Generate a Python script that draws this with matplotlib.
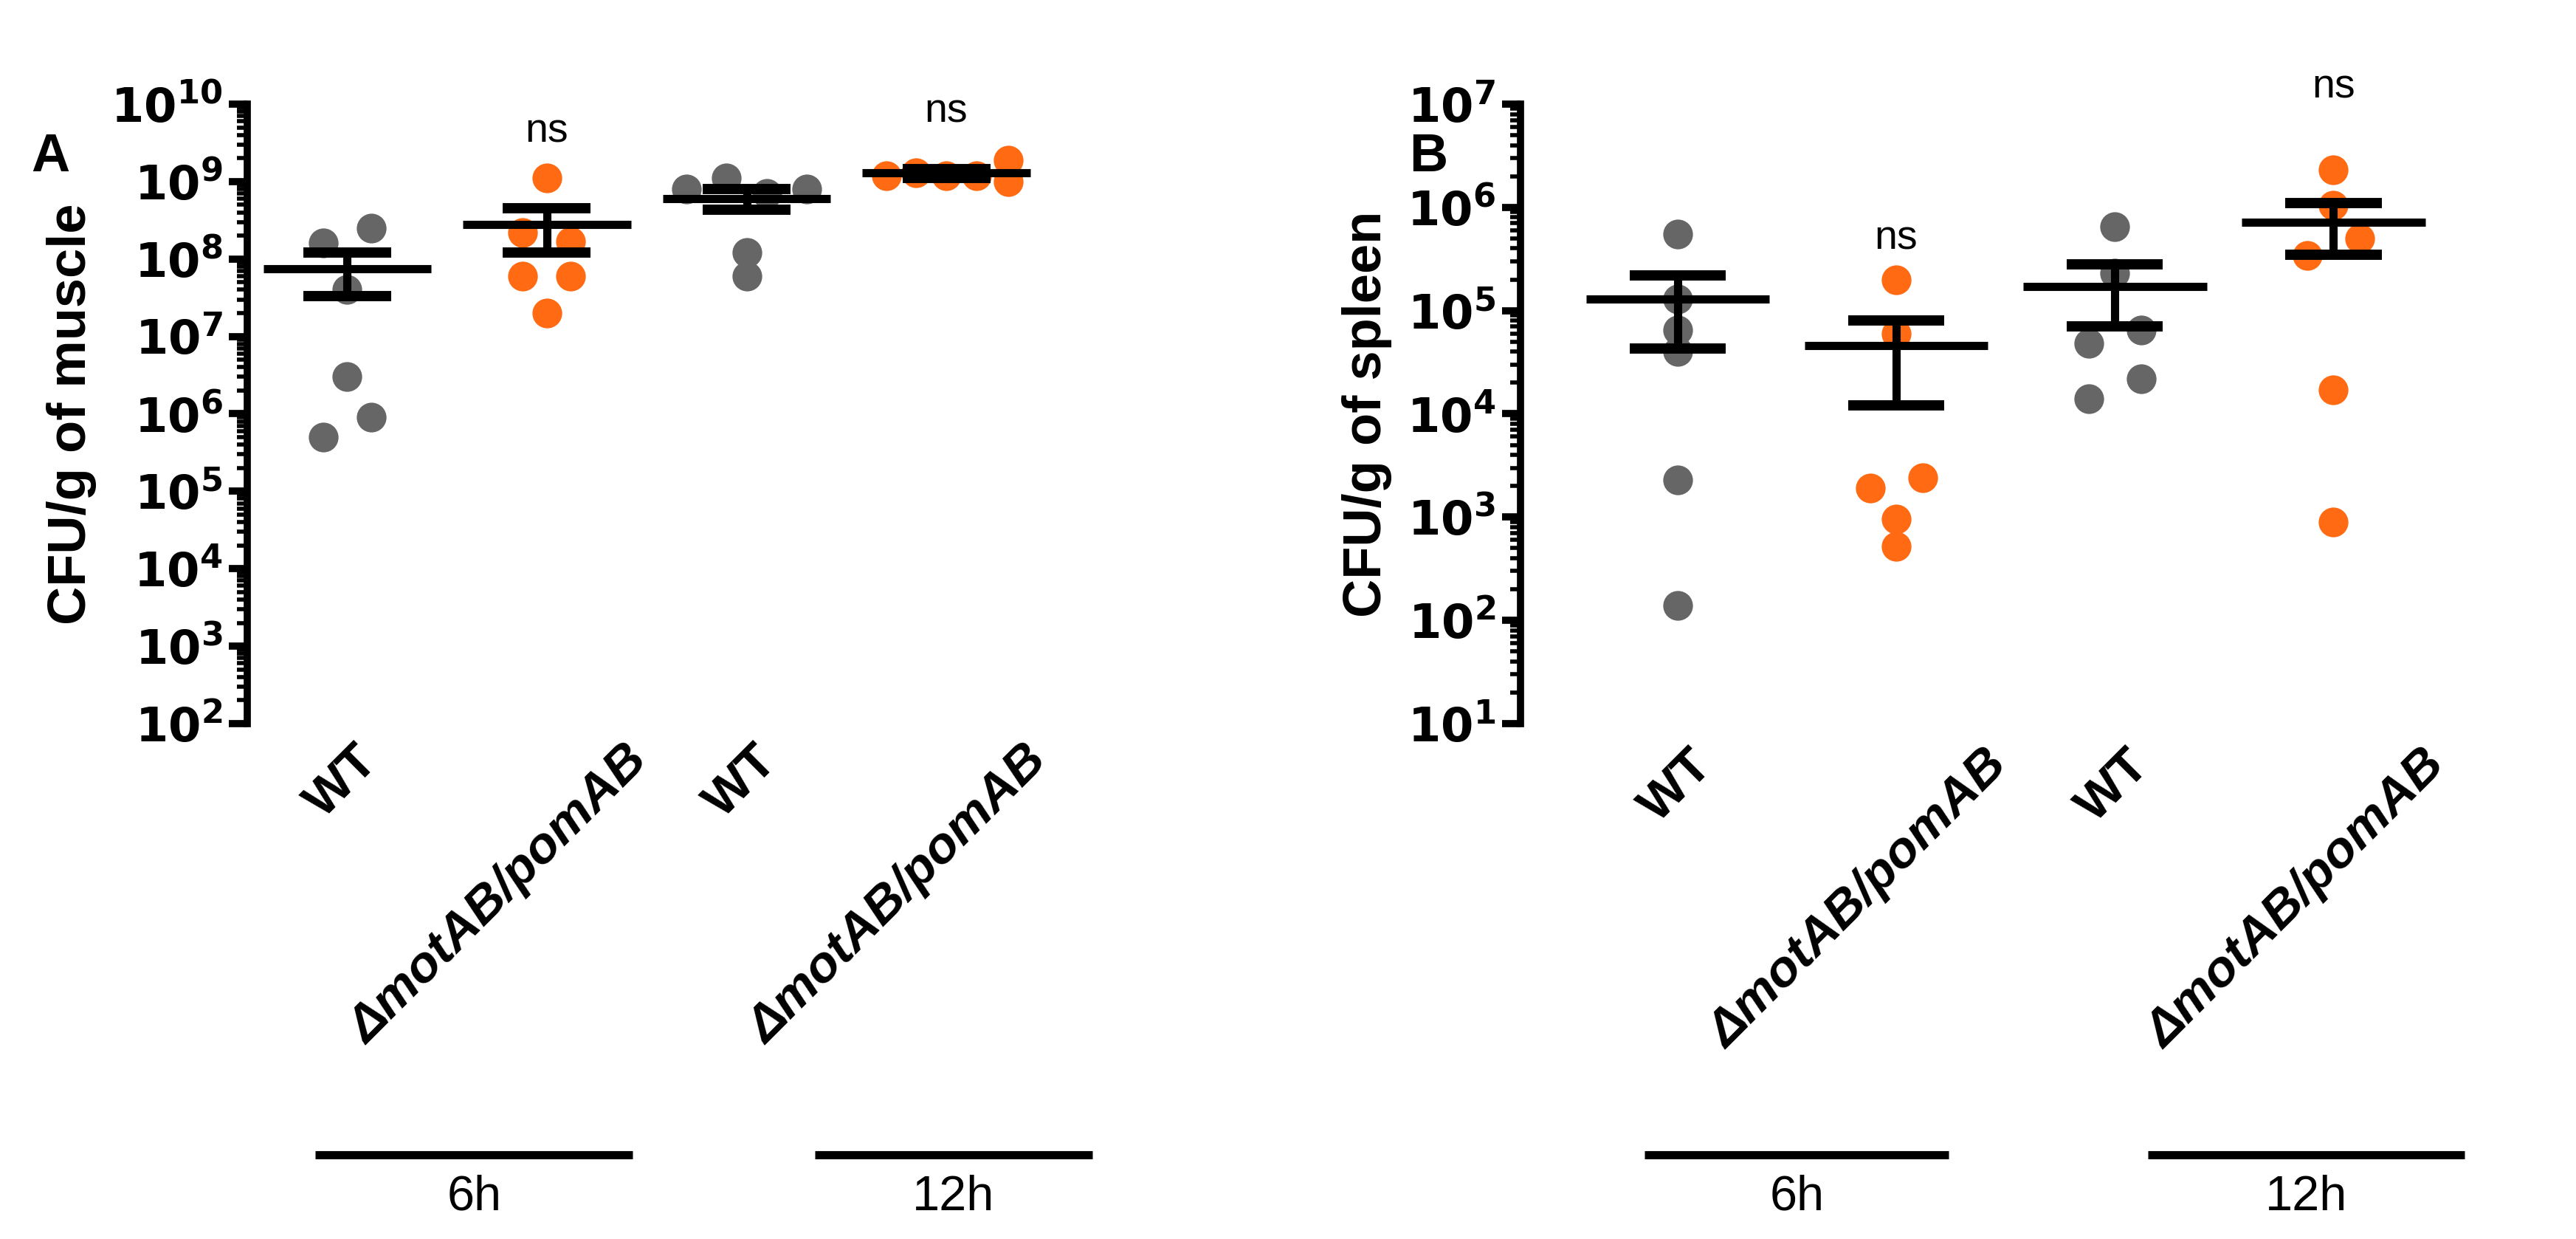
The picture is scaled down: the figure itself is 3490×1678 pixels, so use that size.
import matplotlib.pyplot as plt
import matplotlib.transforms as mtransforms
import numpy as np

# Data (CFU/g)
groups = ["WT", "ΔmotAB/pomAB", "WT", "ΔmotAB/pomAB"]
is_mutant = [False, True, False, True]

muscle = [
    [1.6e8, 2.5e8, 4e7, 3e6, 9e5, 5e5],
    [1.1e9, 2.2e8, 1.7e8, 6e7, 6e7, 2e7],
    [8e8, 1.1e9, 7e8, 8e8, 1.2e8, 6e7],
    [1.2e9, 1.3e9, 1.2e9, 1.2e9, 1.9e9, 1.0e9],
]
muscle_mean = [7.5e7, 2.8e8, 6e8, 1.3e9]
muscle_low = [3.3e7, 1.2e8, 4.3e8, 1.1e9]
muscle_high = [1.2e8, 4.5e8, 8e8, 1.45e9]

spleen = [
    [5.5e5, 1.3e5, 6.5e4, 4e4, 2.3e3, 1.4e2],
    [2e5, 6e4, 2.4e3, 1.9e3, 9.5e2, 5.2e2],
    [6.5e5, 2.3e5, 6.5e4, 4.8e4, 2.2e4, 1.4e4],
    [2.3e6, 1.05e6, 5e5, 3.4e5, 1.7e4, 9e2],
]
spleen_mean = [1.3e5, 4.6e4, 1.7e5, 7.2e5]
spleen_low = [4.3e4, 1.2e4, 7e4, 3.5e5]
spleen_high = [2.2e5, 8e4, 2.8e5, 1.1e6]

# horizontal jitter of the dots (layout)
muscle_jitter = [
    [-0.12, 0.12, 0.0, 0.0, 0.12, -0.12],
    [0.0, -0.12, 0.12, -0.12, 0.12, 0.0],
    [-0.3, -0.1, 0.1, 0.3, 0.0, 0.0],
    [-0.3, -0.15, 0.0, 0.15, 0.31, 0.31],
]
spleen_jitter = [
    [0.0, 0.0, 0.0, 0.0, 0.0, 0.0],
    [0.0, 0.0, 0.12, -0.12, 0.0, 0.0],
    [0.0, 0.0, 0.12, -0.12, 0.12, -0.12],
    [0.0, 0.0, 0.12, -0.12, 0.0, 0.0],
]

GREY = "#666666"
ORANGE = "#ff6a13"

plt.rcParams["font.family"] = ["Liberation Sans", "DejaVu Sans"]
fig = plt.figure(figsize=(34.91, 16.78), dpi=100)


def draw_panel(ax, values, jitter, mean, low, high, ymin, ymax, ylabel, ns_pos, xlim):
    for i, vals in enumerate(values):
        color = ORANGE if is_mutant[i] else GREY
        ax.plot(np.array(jitter[i]) + i, vals, "o", color=color,
                markersize=29, markeredgewidth=0, zorder=2, clip_on=False)
        ax.plot([i - 0.42, i + 0.42], [mean[i], mean[i]], color="black", lw=8, zorder=3,
                solid_capstyle="butt")
        ax.plot([i, i], [low[i], high[i]], color="black", lw=8, zorder=3)
        for v in (low[i], high[i]):
            ax.plot([i - 0.22, i + 0.22], [v, v], color="black", lw=10, zorder=3,
                    solid_capstyle="butt")
    ax.set_yscale("log")
    ax.set_ylim(ymin, ymax)
    ax.set_xlim(*xlim)
    exps = range(int(np.log10(ymin)), int(np.log10(ymax)) + 1)
    ax.set_yticks([10.0 ** e for e in exps])
    ax.set_yticklabels([r"$\mathbf{10^{%d}}$" % e for e in exps], fontsize=46)
    ax.set_ylabel(ylabel, fontsize=52, fontweight="bold", labelpad=14)
    for s in ("top", "right", "bottom"):
        ax.spines[s].set_visible(False)
    ax.spines["left"].set_linewidth(7)
    ax.tick_params(axis="y", which="major", length=18, width=7, pad=6)
    ax.tick_params(axis="y", which="minor", length=10, width=4)
    ax.set_xticks(range(4))
    ax.set_xticklabels([])
    ax.tick_params(axis="x", length=0)
    for i, g in enumerate(groups):
        style = "italic" if is_mutant[i] else "normal"
        dx = 0.55 if is_mutant[i] else 0.2
        ax.text(i + dx, ymin / 1.5, g, rotation=45, ha="right", va="top",
                fontsize=50, fontweight="bold", style=style)
    for i, y in ns_pos:
        ax.text(i, y, "ns", ha="center", va="bottom", fontsize=40, clip_on=False)


axA = fig.add_axes([0.096, 0.416, 0.31, 0.50])
draw_panel(axA, muscle, muscle_jitter, muscle_mean, muscle_low, muscle_high,
           1e2, 1e10, "CFU/g of muscle", [(1, 2.5e9), (3, 4.5e9)], (-0.5, 3.5))
axB = fig.add_axes([0.59, 0.416, 0.358, 0.50])
draw_panel(axB, spleen, spleen_jitter, spleen_mean, spleen_low, spleen_high,
           1e1, 1e7, "CFU/g of spleen", [(1, 3.2e5), (3, 0.95e7)], (-0.72, 3.5))

# time-point bars under the groups
for ax, spans in ((axA, [(-0.16, 1.43, "6h"), (2.34, 3.73, "12h")]),
                  (axB, [(-0.15, 1.24, "6h"), (2.15, 3.6, "12h")])):
    tr = mtransforms.blended_transform_factory(ax.transData, fig.transFigure)
    for x0, x1, lab in spans:
        ax.plot([x0, x1], [0.068, 0.068], color="black", lw=8, transform=tr,
                clip_on=False, solid_capstyle="butt")
        ax.text((x0 + x1) / 2, 0.052, lab, transform=tr, ha="center", va="top",
                fontsize=48)

fig.text(0.012, 0.862, "A", fontsize=52, fontweight="bold")
fig.text(0.547, 0.862, "B", fontsize=52, fontweight="bold")

fig.savefig("out.png", dpi=100)
